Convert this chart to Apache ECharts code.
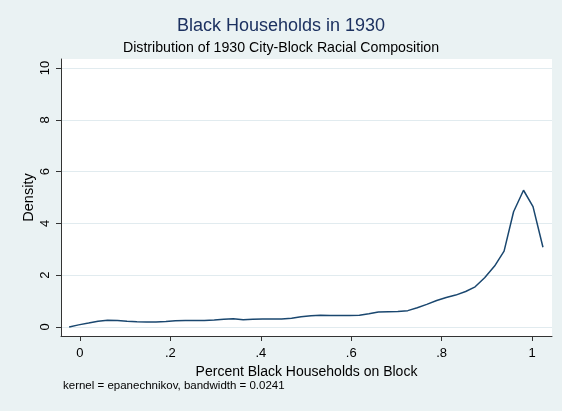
<!DOCTYPE html>
<html>
<head>
<meta charset="utf-8">
<script src="https://cdn.jsdelivr.net/npm/echarts@6/dist/echarts.min.js"></script>
<style>
  html, body { margin: 0; padding: 0; background: #EAF2F3; }
  #chart { width: 562px; height: 411px; }
</style>
</head>
<body>
<div id="chart"></div>
<script>
// Kernel density estimate evaluated at 50 points across the data range
const evalPoints = [
  -0.024, -0.003, 0.019, 0.040, 0.061, 0.083, 0.104, 0.126, 0.147, 0.168,
   0.190,  0.211, 0.233, 0.254, 0.275, 0.297, 0.318, 0.339, 0.361, 0.382,
   0.404,  0.425, 0.446, 0.468, 0.489, 0.511, 0.532, 0.553, 0.575, 0.596,
   0.618,  0.639, 0.660, 0.682, 0.703, 0.725, 0.746, 0.767, 0.789, 0.810,
   0.831,  0.853, 0.874, 0.895, 0.917, 0.938, 0.959, 0.981, 1.002, 1.024
];
const density = [
  0.00, 0.08, 0.15, 0.22, 0.26, 0.25, 0.22, 0.20, 0.19, 0.19,
  0.21, 0.24, 0.25, 0.25, 0.25, 0.27, 0.30, 0.32, 0.28, 0.30,
  0.31, 0.31, 0.31, 0.34, 0.39, 0.43, 0.45, 0.44, 0.44, 0.44,
  0.45, 0.51, 0.58, 0.59, 0.60, 0.63, 0.74, 0.87, 1.02, 1.14,
  1.23, 1.37, 1.55, 1.90, 2.35, 2.93, 4.45, 5.28, 4.65, 3.08
];

const xTicks = [0, 0.2, 0.4, 0.6, 0.8, 1];
const xTickLabels = ['0', '.2', '.4', '.6', '.8', '1'];
const yTicks = [0, 2, 4, 6, 8, 10];
const yTickLabels = ['0', '2', '4', '6', '8', '10'];

const FONT = 'Liberation Sans, Arial, sans-serif';
const chart = echarts.init(document.getElementById('chart'), null, { renderer: 'canvas' });

chart.setOption({
  animation: false,
  backgroundColor: '#EAF2F3',
  textStyle: { fontFamily: FONT },
  title: [
    {
      text: 'Black Households in 1930',
      left: 'center', top: 17, padding: 0,
      textStyle: { fontFamily: FONT, fontSize: 18, fontWeight: 'normal', color: '#1c3160' }
    },
    {
      text: 'Distribution of 1930 City-Block Racial Composition',
      left: 'center', top: 41, padding: 0,
      textStyle: { fontFamily: FONT, fontSize: 14.2, fontWeight: 'normal', color: '#000' }
    },
    {
      text: 'kernel = epanechnikov, bandwidth = 0.0241',
      left: 63, top: 380, padding: 0,
      textStyle: { fontFamily: FONT, fontSize: 11.5, fontWeight: 'normal', color: '#000' }
    }
  ],
  grid: {
    left: 61, right: 10, top: 59, bottom: 75,
    show: true, backgroundColor: '#ffffff', borderWidth: 0
  },
  xAxis: {
    type: 'value',
    min: -0.042, max: 1.044,
    name: 'Percent Black Households on Block',
    nameLocation: 'middle', nameGap: 23,
    nameTextStyle: { fontFamily: FONT, fontSize: 14, color: '#000' },
    axisLine: { show: true, onZero: false, lineStyle: { color: '#333', width: 1 } },
    axisTick: { show: true, length: 5, customValues: xTicks, lineStyle: { color: '#333' } },
    axisLabel: {
      customValues: xTicks, margin: 11,
      fontFamily: FONT, fontSize: 13, color: '#000',
      formatter: v => xTickLabels[xTicks.indexOf(v)] ?? String(v)
    },
    splitLine: { show: false }
  },
  yAxis: {
    type: 'value',
    min: -0.35, max: 10.35,
    name: 'Density',
    nameLocation: 'middle', nameGap: 25, nameRotate: 90,
    nameMoveOverlap: false,
    nameTextStyle: { fontFamily: FONT, fontSize: 14.5, color: '#000' },
    axisLine: { show: true, onZero: false, lineStyle: { color: '#333', width: 1 } },
    axisTick: { show: true, length: 5, customValues: yTicks, lineStyle: { color: '#333' } },
    axisLabel: {
      customValues: yTicks, margin: 9, rotate: 90,
      fontFamily: FONT, fontSize: 13, color: '#000',
      formatter: v => yTickLabels[yTicks.indexOf(v)] ?? String(v)
    },
    splitLine: { show: true, lineStyle: { color: '#E1EBEF', width: 1 } }
  },
  series: [{
    type: 'line',
    data: evalPoints.map((x, i) => [x, density[i]]),
    showSymbol: false,
    smooth: false,
    lineStyle: { color: '#1a476f', width: 1.5 },
    itemStyle: { color: '#1a476f' }
  }]
});
</script>
</body>
</html>
